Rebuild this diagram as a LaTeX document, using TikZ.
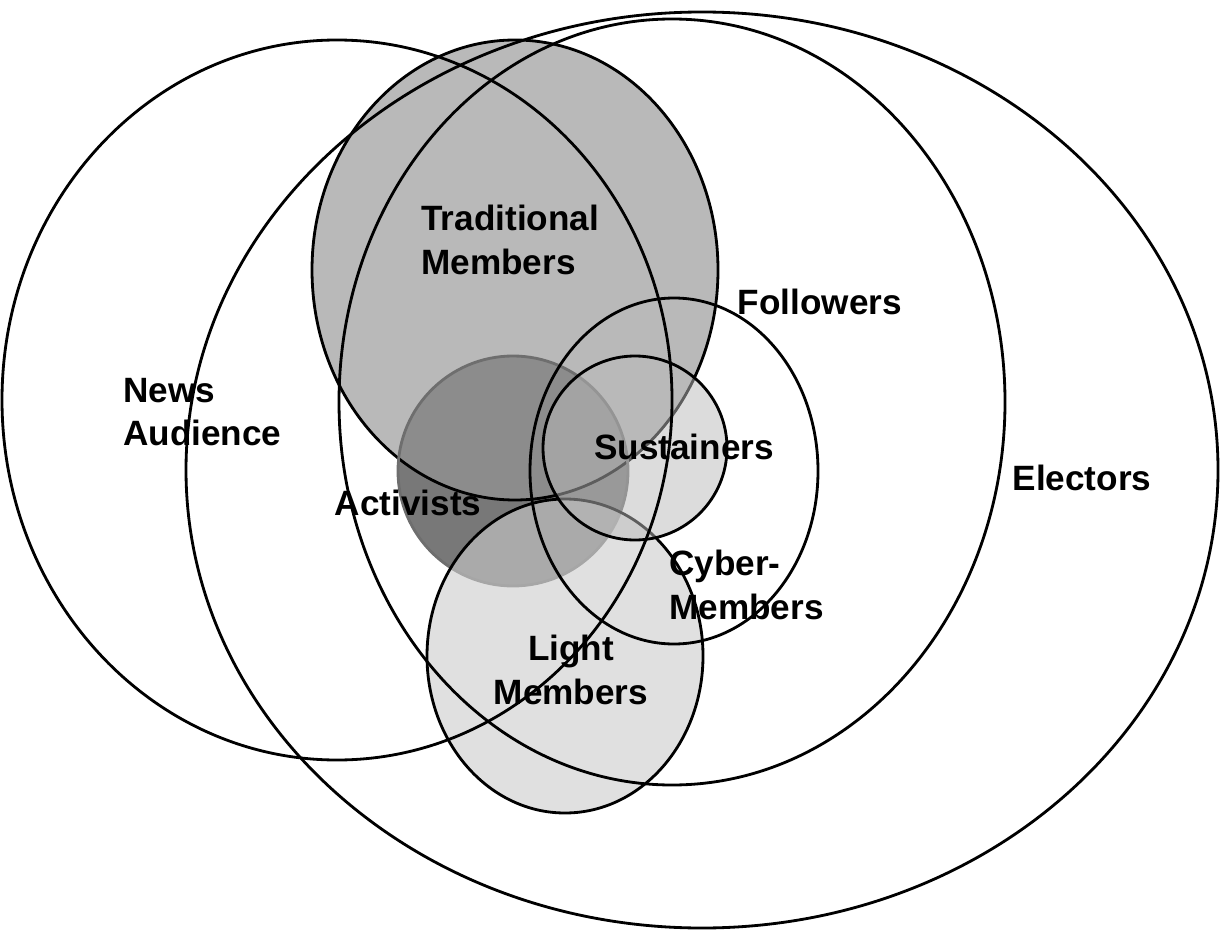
\documentclass[tikz,border=0pt]{standalone}
\usepackage{fontspec}
\setmainfont{Liberation Sans}
\tikzset{
  rim/.style={black, line width=2pt},
  tag/.style={font=\fontsize{25}{31}\selectfont\bfseries, inner sep=0pt},
}

\begin{document}
\begin{tikzpicture}[x=0.025cm, y=-0.025cm]
            \useasboundingbox (0,0) rectangle (1220,931);
            % shaded member groups
            \fill[black!53] (513,471) circle (115);
            \filldraw[rim, fill=black!41, fill opacity=0.67] (515,270) ellipse (203 and 230);
            \draw[black!57, line width=2pt] (513,471) circle (115);
            \filldraw[rim, fill=black!20, fill opacity=0.6] (565,656) ellipse (138 and 157);
            \filldraw[rim, fill=black!27, fill opacity=0.5] (635,448) circle (92);
            % open rings
            \draw[rim] (337,400) ellipse (335 and 360);
            \draw[rim] (672,402) ellipse (333 and 383);
            \draw[rim] (674,471) ellipse (144 and 173);
            \draw[rim] (702,470) ellipse (516 and 458);

            \node[tag, anchor=west, align=left] (trad) at (421,240) {Traditional\\Members};
            \node[tag, anchor=west, align=left] (news) at (123,412) {News\\Audience};
            \node[tag] (act) at (408,503) {Activists};
            \node[tag] (sust) at (684,447) {Sustainers};
            \node[tag] (foll) at (820,302) {Followers};
            \node[tag, anchor=west, align=left] (cyber) at (669,585) {Cyber-\\Members};
            \node[tag, align=center] (light) at (571,670) {Light\\Members};
            \node[tag] (elect) at (1082,478) {Electors};
        \end{tikzpicture}
\end{document}
